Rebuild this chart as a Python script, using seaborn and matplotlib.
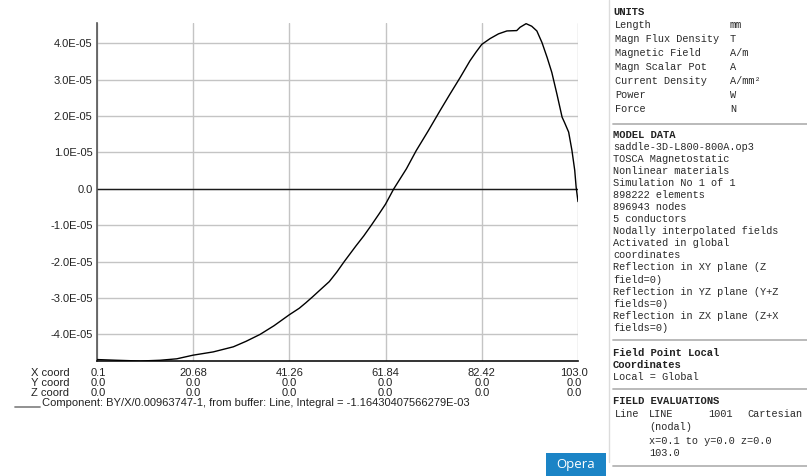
import matplotlib
matplotlib.use("Agg")
import matplotlib.pyplot as plt
import matplotlib.transforms as mtransforms
import seaborn as sns
import pandas as pd

# Line evaluation: BY component along X (x in mm, field in units of 1e-5 T)
x_mm = [0.1, 4.4, 9.4, 13.6, 17.2, 20.68, 25.0, 29.3, 32.0, 35.0, 38.0, 41.26,
        43.4, 44.8, 46.3, 48.0, 49.8, 51.4, 53.0, 55.5, 57.2, 58.8, 60.5,
        61.84, 63.6, 66.3, 68.4, 71.0, 73.5, 75.6, 77.8, 79.9, 81.2, 82.42,
        84.2, 86.0, 87.8, 89.9, 90.6, 91.9, 93.1, 94.2, 95.3, 96.4, 97.4,
        98.5, 99.6, 100.1, 101.0, 101.7, 102.3, 102.6, 103.0]
by_e5 = [-4.69, -4.71, -4.73, -4.71, -4.67, -4.57, -4.48, -4.34, -4.19, -4.00,
         -3.76, -3.46, -3.28, -3.13, -2.96, -2.76, -2.55, -2.29, -2.00, -1.57,
         -1.29, -1.00, -0.68, -0.42, 0.00, 0.55, 1.05, 1.60, 2.15, 2.60, 3.06,
         3.52, 3.76, 3.97, 4.13, 4.26, 4.34, 4.35, 4.44, 4.54, 4.47, 4.34,
         4.02, 3.61, 3.20, 2.60, 1.97, 1.83, 1.56, 1.06, 0.51, 0.05, -0.35]

x_ticks = [0.1, 20.68, 41.26, 61.84, 82.42, 103.0]
x_tick_labels = ["0.1", "20.68", "41.26", "61.84", "82.42", "103.0"]
y_coord_labels = ["0.0"] * 6
z_coord_labels = ["0.0"] * 6
y_ticks = [-4e-5, -3e-5, -2e-5, -1e-5, 0.0, 1e-5, 2e-5, 3e-5, 4e-5]
y_tick_labels = ["-4.0E-05", "-3.0E-05", "-2.0E-05", "-1.0E-05", "0.0",
                 "1.0E-05", "2.0E-05", "3.0E-05", "4.0E-05"]

component_text = ("Component: BY/X/0.00963747-1, from buffer: Line, "
                  "Integral = -1.16430407566279E-03")

units_rows = [("Length", "mm"), ("Magn Flux Density", "T"),
              ("Magnetic Field", "A/m"), ("Magn Scalar Pot", "A"),
              ("Current Density", "A/mm\u00b2"), ("Power", "W"), ("Force", "N")]
model_rows = ["saddle-3D-L800-800A.op3", "TOSCA Magnetostatic",
              "Nonlinear materials", "Simulation No 1 of 1",
              "898222 elements", "896943 nodes", "5 conductors",
              "Nodally interpolated fields", "Activated in global",
              "coordinates", "Reflection in XY plane (Z", "field=0)",
              "Reflection in YZ plane (Y+Z", "fields=0)",
              "Reflection in ZX plane (Z+X", "fields=0)"]

sns.set_theme(style="white")
plt.rcParams["font.family"] = ["Liberation Sans", "DejaVu Sans"]

W, H = 807, 476
fig = plt.figure(figsize=(W / 100, H / 100), dpi=100)
fig.patch.set_facecolor("white")


def fx(px):
    return px / W


def fy(py):
    return 1 - py / H


ax = fig.add_axes([fx(96.8), fy(361), fx(578) - fx(96.8), fy(23.3) - fy(361)])
ax.set_facecolor("white")

df = pd.DataFrame({"x": x_mm, "by": [v * 1e-5 for v in by_e5]})
sns.lineplot(data=df, x="x", y="by", ax=ax, color="black", linewidth=1.0,
             sort=False, estimator=None, zorder=3)

ax.set_xlim(x_ticks[0], x_ticks[-1])
ax.set_ylim(-4.73e-5, 4.55e-5)
ax.set_xticks(x_ticks)
ax.set_xticklabels([])
ax.set_yticks(y_ticks)
ax.set_yticklabels(y_tick_labels, fontsize=8, color="#222222")
ax.tick_params(axis="both", length=0, pad=3)
ax.set_xlabel("")
ax.set_ylabel("")
ax.grid(True, color="#c4c4c4", linewidth=1.0, zorder=0)
ax.axhline(0.0, color="#1a1a1a", linewidth=1.0, zorder=2)

for side in ("top", "right"):
    ax.spines[side].set_visible(False)
ax.spines["left"].set_color("#555555")
ax.spines["left"].set_linewidth(1.2)
ax.spines["bottom"].set_color("#111111")
ax.spines["bottom"].set_linewidth(1.2)

# Coordinate table under the x axis
row_tf = mtransforms.blended_transform_factory(ax.transData, fig.transFigure)
rows = [("X coord", x_tick_labels, 372.5), ("Y coord", y_coord_labels, 382.5),
        ("Z coord", z_coord_labels, 392.5)]
for name, labels, py in rows:
    fig.text(fx(31), fy(py), name, fontsize=8, color="#222222",
             va="center", ha="left")
    for xv, lab in zip(x_ticks, labels):
        xt = xv + 0.3 if xv == x_ticks[0] else xv
        if xv == x_ticks[-1]:
            xt = xv - 0.9
        fig.text(xt, fy(py), lab, transform=row_tf, fontsize=8,
                 color="#222222", va="center", ha="center")

fig.add_artist(plt.Line2D([fx(15), fx(40)], [fy(406.5), fy(406.5)],
                          color="#888888", linewidth=1.3))
fig.text(fx(42), fy(403), component_text, fontsize=8, color="#222222",
         va="center", ha="left")

# Information panel on the right
mono = ["Liberation Mono", "DejaVu Sans Mono"]
tcol = "#2a2a2a"
fig.add_artist(plt.Line2D([fx(608.5), fx(608.5)], [fy(0), fy(462)],
                          color="#dcdcdc", linewidth=1.0))


def sep(py):
    fig.add_artist(plt.Line2D([fx(613), fx(807)], [fy(py), fy(py)],
                              color="#b4b4b4", linewidth=1.3))


def head(px, py, s):
    fig.text(fx(px), fy(py), s, family=mono, fontsize=7.6, weight="bold",
             color="#222222", va="center", ha="left")


def line(px, py, s):
    fig.text(fx(px), fy(py), s, family=mono, fontsize=7.4, color=tcol,
             va="center", ha="left")


head(613, 11.7, "UNITS")
for i, (k, u) in enumerate(units_rows):
    py = 25 + 14 * i
    line(615, py, k)
    line(730, py, u)
sep(123.5)

head(613, 135, "MODEL DATA")
for i, s in enumerate(model_rows):
    line(613, 147 + 12.05 * i, s)
sep(340)

head(613, 352.5, "Field Point Local")
head(613, 365, "Coordinates")
line(613, 376.5, "Local = Global")
sep(389)

head(613, 401, "FIELD EVALUATIONS")
line(615, 414, "Line")
line(649, 414, "LINE")
line(708, 414, "1001")
line(747, 414, "Cartesian")
line(649, 427, "(nodal)")
line(649, 441, "x=0.1 to y=0.0 z=0.0")
line(649, 453, "103.0")
sep(465.5)

# Brand badge
fig.add_artist(plt.Rectangle((fx(546), 0), fx(606) - fx(546), fy(453.3),
                             transform=fig.transFigure, facecolor="#1b84c6",
                             edgecolor="none"))
fig.text(fx(576), fy(464.5), "Opera", family=["Open Sans", "DejaVu Sans"],
         fontsize=9.5, color="white", va="center", ha="center")

fig.savefig("out.png", dpi=100, facecolor="white")
